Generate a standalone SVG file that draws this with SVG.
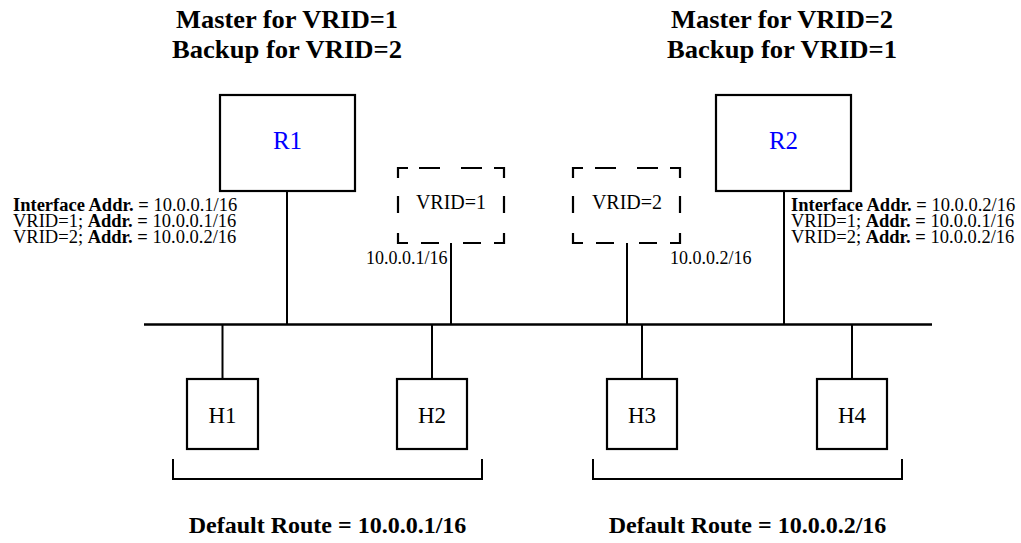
<svg xmlns="http://www.w3.org/2000/svg" width="1021" height="543" viewBox="0 0 1021 543">
<style>
  text { font-family: "Liberation Serif", "Times New Roman", "DejaVu Serif", serif; fill: #000; }
  .title { font-size: 26px; font-weight: bold; text-anchor: middle; }
  .route { font-size: 24px; font-weight: bold; text-anchor: middle; }
  .rlabel { font-size: 25px; fill: #0000ff; text-anchor: middle; }
  .hlabel { font-size: 23px; text-anchor: middle; }
  .vlabel { font-size: 20px; text-anchor: middle; }
  .info { font-size: 18.5px; }
  .addr { font-size: 18px; }
  .box { fill: #fff; stroke: #000; stroke-width: 2.2; }
  .dash { fill: none; stroke: #000; stroke-width: 2.2; }
  .wire { fill: none; stroke: #000; stroke-width: 2; }
  .bus { fill: none; stroke: #000; stroke-width: 2.6; }
  .b { font-weight: bold; }
</style>
<rect width="1021" height="543" fill="#fff"/>

<g id="titles">
  <text class="title" x="287" y="28" textLength="222" lengthAdjust="spacingAndGlyphs">Master for VRID=1</text>
  <text class="title" x="287" y="58" textLength="230" lengthAdjust="spacingAndGlyphs">Backup for VRID=2</text>
  <text class="title" x="782" y="28" textLength="222" lengthAdjust="spacingAndGlyphs">Master for VRID=2</text>
  <text class="title" x="782" y="58" textLength="230" lengthAdjust="spacingAndGlyphs">Backup for VRID=1</text>
</g>

<g id="connectors">
  <line class="bus" x1="144" y1="324.5" x2="932" y2="324.5"/>
  <line class="wire" x1="287" y1="191" x2="287" y2="324"/>
  <line class="wire" x1="451" y1="243" x2="451" y2="324"/>
  <line class="wire" x1="627" y1="243" x2="627" y2="324"/>
  <line class="wire" x1="784" y1="191" x2="784" y2="324"/>
  <line class="wire" x1="222.5" y1="325" x2="222.5" y2="379"/>
  <line class="wire" x1="432" y1="325" x2="432" y2="379"/>
  <line class="wire" x1="642" y1="325" x2="642" y2="379"/>
  <line class="wire" x1="852" y1="325" x2="852" y2="379"/>
</g>

<g id="R1">
  <rect class="box" x="220" y="95" width="135" height="96"/>
  <text class="rlabel" x="287.5" y="149">R1</text>
</g>
<g id="R2">
  <rect class="box" x="716" y="95" width="135" height="96"/>
  <text class="rlabel" x="783.5" y="149">R2</text>
</g>

<g id="R1-info">
  <text class="info" x="13" y="211"><tspan class="b">Interface Addr. =</tspan> 10.0.0.1/16</text>
  <text class="info" x="13" y="227">VRID=1; <tspan class="b">Addr. =</tspan> 10.0.0.1/16</text>
  <text class="info" x="13" y="243">VRID=2; <tspan class="b">Addr. =</tspan> 10.0.0.2/16</text>
</g>
<g id="R2-info">
  <text class="info" x="791" y="211"><tspan class="b">Interface Addr. =</tspan> 10.0.0.2/16</text>
  <text class="info" x="791" y="227">VRID=1; <tspan class="b">Addr. =</tspan> 10.0.0.1/16</text>
  <text class="info" x="791" y="243">VRID=2; <tspan class="b">Addr. =</tspan> 10.0.0.2/16</text>
</g>

<g id="VRID1">
  <path class="dash" d="M398 178 V168 H408 M419 168 H440 M461 168 H482 M494 168 H504 V178 M398 196 V213 M504 196 V213 M398 233 V243 H408 M421 243 H439 M463 243 H481 M494 243 H504 V233"/>
  <text class="vlabel" x="451" y="209">VRID=1</text>
  <text class="addr" x="366" y="264">10.0.0.1/16</text>
</g>
<g id="VRID2">
  <path class="dash" d="M573 178 V168 H583 M595 168 H616 M637 168 H658 M670 168 H680 V178 M573 196 V213 M680 196 V213 M573 233 V243 H583 M596 243 H614 M639 243 H657 M670 243 H680 V233"/>
  <text class="vlabel" x="627" y="209">VRID=2</text>
  <text class="addr" x="670" y="264">10.0.0.2/16</text>
</g>

<g id="H1">
  <rect class="box" x="187" y="379" width="71" height="70"/>
  <text class="hlabel" x="222.5" y="423">H1</text>
</g>
<g id="H2">
  <rect class="box" x="397" y="379" width="70" height="70"/>
  <text class="hlabel" x="432" y="423">H2</text>
</g>
<g id="H3">
  <rect class="box" x="607" y="379" width="70" height="70"/>
  <text class="hlabel" x="642" y="423">H3</text>
</g>
<g id="H4">
  <rect class="box" x="817" y="379" width="70" height="70"/>
  <text class="hlabel" x="852" y="423">H4</text>
</g>

<g id="groups">
  <path class="wire" d="M173 459 V479 H482 V459"/>
  <path class="wire" d="M593 459 V479 H902 V459"/>
  <text class="route" x="327.5" y="533">Default Route = 10.0.0.1/16</text>
  <text class="route" x="747.5" y="533">Default Route = 10.0.0.2/16</text>
</g>
</svg>
